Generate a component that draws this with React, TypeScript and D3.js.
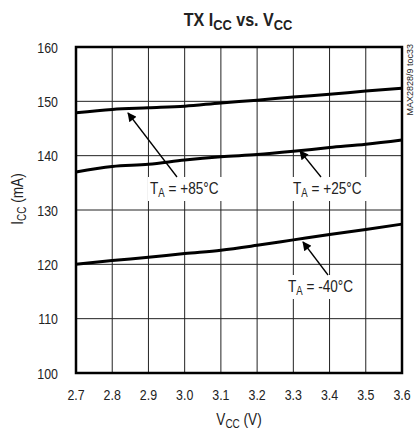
import React from "react";
import * as d3 from "d3";

const vcc = [2.7, 2.8, 2.9, 3.0, 3.1, 3.2, 3.3, 3.4, 3.5, 3.6];
const icc85 = [147.9, 148.5, 148.8, 149.1, 149.7, 150.2, 150.8, 151.3, 151.9, 152.4];
const icc25 = [137.0, 138.0, 138.4, 139.2, 139.8, 140.2, 140.8, 141.5, 142.1, 142.9];
const iccM40 = [120.0, 120.7, 121.3, 122.0, 122.6, 123.5, 124.5, 125.5, 126.4, 127.4];
const xTicks = [2.7, 2.8, 2.9, 3.0, 3.1, 3.2, 3.3, 3.4, 3.5, 3.6];
const yTicks = [100, 110, 120, 130, 140, 150, 160];

const FONT = "'Liberation Sans', Arial, sans-serif";

function NT(props: { x: number; y: number; rotate?: number; anchor?: string; size: number; weight?: string; sx?: number; children: React.ReactNode }) {
  const { x, y, rotate = 0, anchor = "start", size, weight = "normal", sx = 0.8, children } = props;
  return (
    <g transform={`translate(${x},${y}) rotate(${rotate}) scale(${sx},1)`}>
      <text x={0} y={0} textAnchor={anchor} fontSize={size} fontWeight={weight} fill="#222" fontFamily={FONT}>
        {children}
      </text>
    </g>
  );
}

export default function App() {
  const L = 76, R = 402, T = 47, B = 373;
  const x = d3.scaleLinear().domain([2.7, 3.6]).range([L, R]);
  const y = d3.scaleLinear().domain([100, 160]).range([B, T]);
  const line = d3
    .line<number>()
    .x((_, i) => x(vcc[i]))
    .y((d) => y(d))
    .curve(d3.curveMonotoneX);
  const series = [icc85, icc25, iccM40];

  const labels = [
    { text: "+85°C", tx: 150, ty: 194, w: 73, ax1: 177, ay1: 177, ax2: 128, ay2: 113 },
    { text: "+25°C", tx: 293, ty: 194, w: 74, ax1: 321, ay1: 177, ax2: 300, ay2: 151 },
    { text: "-40°C", tx: 288, ty: 292, w: 72, ax1: 328, ay1: 275, ax2: 303, ay2: 242 },
  ];

  return (
    <svg width={414} height={432} style={{ position: "absolute", left: 0, top: 0, background: "#fff" }}>
      <defs>
        <marker id="ah" viewBox="0 0 10 10" refX="9" refY="5" markerWidth="13" markerHeight="9" orient="auto" markerUnits="userSpaceOnUse">
          <path d="M0,0 L10,5 L0,10 Z" fill="#000" />
        </marker>
      </defs>
      {/* title */}
      <NT x={238} y={26} anchor="middle" size={17.5} weight="bold" sx={0.92}>
        TX I<tspan fontSize={14} dy={4}>CC</tspan>
        <tspan dy={-4}> vs. V</tspan>
        <tspan fontSize={14} dy={4}>CC</tspan>
      </NT>
      {/* grid */}
      {xTicks.map((t) => (
        <line key={"gx" + t} x1={x(t)} x2={x(t)} y1={T} y2={B} stroke="#222" strokeWidth={1} />
      ))}
      {yTicks.map((t) => (
        <line key={"gy" + t} x1={L} x2={R} y1={y(t)} y2={y(t)} stroke="#222" strokeWidth={1} />
      ))}
      {/* label backgrounds */}
      {labels.map((l, i) => (
        <rect key={"bg" + i} x={l.tx - 2} y={l.ty - 17} width={l.w + 4} height={24} fill="#fff" />
      ))}
      {/* curves */}
      {series.map((s, i) => (
        <path key={"s" + i} d={line(s) || ""} fill="none" stroke="#000" strokeWidth={3} />
      ))}
      {/* border */}
      <rect x={L} y={T} width={R - L} height={B - T} fill="none" stroke="#000" strokeWidth={2.5} />
      {/* y ticks */}
      {yTicks.map((t) => (
        <NT key={"yt" + t} x={58} y={y(t) + 5.5} anchor="end" size={15.5}>
          {t}
        </NT>
      ))}
      {/* x ticks */}
      {xTicks.map((t) => (
        <NT key={"xt" + t} x={x(t)} y={400} anchor="middle" size={15.5}>
          {t.toFixed(1)}
        </NT>
      ))}
      {/* axis labels */}
      <NT x={239} y={425} anchor="middle" size={17}>
        V<tspan fontSize={12.5} dy={3}>CC</tspan>
        <tspan dy={-3}> (V)</tspan>
      </NT>
      <NT x={23} y={199} rotate={-90} anchor="middle" size={17}>
        I<tspan fontSize={12.5} dy={3}>CC</tspan>
        <tspan dy={-3}> (mA)</tspan>
      </NT>
      <NT x={413} y={44} rotate={-90} anchor="end" size={9} sx={1}>
        MAX2828/9 toc33
      </NT>
      {/* annotations */}
      {labels.map((l, i) => (
        <g key={"lab" + i}>
          <line x1={l.ax1} y1={l.ay1} x2={l.ax2} y2={l.ay2} stroke="#000" strokeWidth={1.3} markerEnd="url(#ah)" />
          <NT x={l.tx} y={l.ty} size={17}>
            T<tspan fontSize={12} dy={3}>A</tspan>
            <tspan dy={-3}>{" = " + l.text}</tspan>
          </NT>
        </g>
      ))}
    </svg>
  );
}
